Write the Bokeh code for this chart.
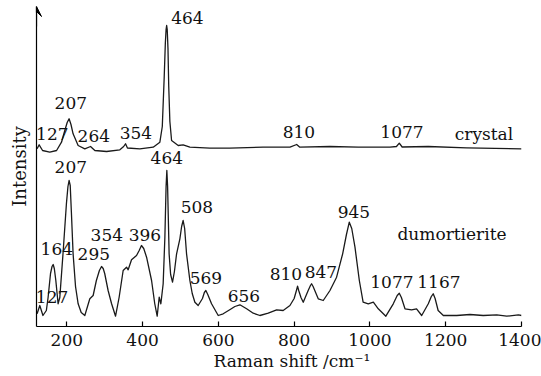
from bokeh.plotting import figure
from bokeh.models import ColumnDataSource, FixedTicker, Arrow, VeeHead, Range1d, Title
from bokeh.core.properties import value
from bokeh.embed import file_html
from bokeh.resources import INLINE

# ---- data (Raman shift in cm^-1, intensity in arbitrary units) ----
crystal_x = [121.6, 127, 136, 155, 173, 186, 194.7, 201, 206, 211, 216.6, 229.9, 247.5, 262.6, 274, 305,
             340, 350, 355, 360, 392.8, 428, 445.6, 452, 457, 460, 462, 463.5, 465, 467, 469, 472, 476.5,
             494, 507, 524.8, 577.6, 630, 718, 789, 806.6, 815, 894.5, 969, 1053, 1070, 1077.5, 1085,
             1154, 1255, 1330, 1400]
crystal_y = [177.7, 181.7, 176, 174.3, 176, 184.3, 196, 204, 207.7, 202, 192.7, 181, 177.7, 180, 176, 175,
             176.7, 180, 182.7, 178.5, 177.7, 179.3, 184.3, 200, 249, 283, 297, 301, 297, 278, 240, 205, 186,
             181, 181.7, 179.3, 178.3, 178.3, 179.3, 179.3, 182, 179.3, 180, 179.3, 179.3, 180, 183.3, 179.5,
             180, 178.7, 178.2, 177.7]

dumort_x = [121.6, 128.7, 137, 146, 150.6, 157, 161, 164, 167, 171, 177, 181.5, 190, 199, 203, 206, 209,
            212, 216.6, 223, 229.9, 238, 247.5, 260.7, 269.5, 278, 286, 291.6, 296, 300, 309, 318, 328.6,
            338, 348.7, 357.6, 361.9, 370.8, 384, 391, 397, 403, 410.5, 423.7, 432, 438.5, 443.8, 448.2,
            454.3, 458.8, 462, 464, 466, 470, 474, 479, 484, 489.7, 498.4, 503, 507, 511, 516, 524.8, 531,
            538, 546.7, 558, 563, 567, 572, 582, 599.6, 612.7, 630, 643.6, 656.8, 674.5, 692, 709.6, 731.6,
            753.7, 771, 788.9, 800, 806, 809, 812, 818, 824, 837, 843, 846, 850, 863.6, 876.8, 894.5, 912,
            928, 938, 945.5, 952, 960.5, 972, 982, 995.6, 1009, 1022, 1042, 1061.6, 1072, 1077.5, 1083,
            1092.5, 1110, 1123, 1136.6, 1154, 1162, 1167, 1172, 1180, 1193.7, 1229, 1264, 1299, 1334.7,
            1361, 1391.7, 1400]
dumort_y = [12.7, 21, 11, 16, 29, 53, 60, 62, 58, 46, 22.7, 29, 73, 123, 140, 146, 141,
            115, 72.7, 40, 22.7, 14, 11, 27.7, 31, 46, 56, 60, 58, 53, 36, 23, 10.3,
            29, 56, 59.3, 56.7, 66.7, 71, 76, 81, 78, 69.3, 46, 23, 10.3, 29.3, 22.7,
            42.7, 89, 140, 156, 140, 72.7, 52, 44.3, 55, 72.7, 87.7, 100, 106, 98, 72.7, 46, 33,
            24.3, 21, 28, 34, 36, 32, 22.7, 11, 12.7, 16.7, 20, 21.7, 17.7, 13.3, 11, 13.3,
            16.7, 16, 21, 28, 36, 40.3, 36, 29, 24.3, 36, 41, 42.7, 40, 27.7, 26, 36, 49.3,
            72.7, 92, 104.3, 98, 79.3, 46, 24.3, 22.7, 24.3, 17.7, 10.3, 22.7, 31, 33.3, 29,
            17.7, 16.7, 17.7, 11, 22.7, 30, 32.7, 28, 16, 11, 11, 12, 11, 11.7,
            10.3, 11.7, 11]

x_ticks = [200, 400, 600, 800, 1000, 1200, 1400]

# peak annotations (text, and where each label sits)
crystal_labels = ["127", "207", "264", "354", "464", "810", "1077", "crystal"]
crystal_label_x = [161.7, 210.6, 271.3, 382.2, 518.2, 812.6, 1084.6, 1301]
crystal_label_y = [193, 224, 191, 194, 309, 195, 195, 193]

dumort_labels = ["127", "164", "207", "295", "354", "396", "464", "508", "569", "656",
                 "810", "847", "945", "1077", "1167", "dumortierite"]
dumort_label_x = [161.0, 173.6, 210.6, 271.3, 305.6, 406, 464, 543.3, 567, 667.4,
                  778.3, 870.7, 957.8, 1058, 1182, 1216.6]
dumort_label_y = [30, 78, 160, 73, 92, 92, 169, 120, 49, 31,
                  53, 55, 115, 45, 45, 93]

FONT = "DejaVu Serif"
FS = "17px"

p = figure(width=541, height=376, output_backend="svg", toolbar_location=None,
           x_range=Range1d(120, 1400), y_range=Range1d(0, 320),
           min_border_left=36, min_border_right=20, min_border_top=6, min_border_bottom=50)
p.outline_line_color = None
p.xgrid.visible = False
p.ygrid.visible = False
p.background_fill_color = "white"
p.border_fill_color = "white"

p.line(crystal_x, crystal_y, line_color="#1a1a1a", line_width=1.3, line_join="round")
p.line(dumort_x, dumort_y, line_color="#1a1a1a", line_width=1.3, line_join="round")

src_c = ColumnDataSource(dict(x=crystal_label_x, y=crystal_label_y, t=crystal_labels))
src_d = ColumnDataSource(dict(x=dumort_label_x, y=dumort_label_y, t=dumort_labels))
for s in (src_c, src_d):
    p.text(x="x", y="y", text="t", source=s, text_font=value(FONT), text_font_size=value(FS),
           text_align="center", text_baseline="middle", text_color="#111111")

# x axis
xa = p.xaxis[0]
xa.ticker = FixedTicker(ticks=x_ticks)
xa.minor_tick_line_color = None
xa.major_tick_in = 5
xa.major_tick_out = 0
xa.major_tick_line_width = 1.2
xa.axis_line_width = 1.2
xa.axis_line_color = "black"
xa.major_tick_line_color = "black"
xa.major_label_text_font = FONT
xa.major_label_text_font_size = FS
xa.major_label_text_color = "#111111"
xa.major_label_standoff = 7

# x axis title, set a little right of centre as in the reference
p.add_layout(Title(text="Raman shift /cm\u207b\u00b9", align="left", offset=177, standoff=0,
                   text_font=FONT, text_font_size=FS, text_font_style="normal",
                   text_color="#111111"), "below")

# y axis
ya = p.yaxis[0]
ya.ticker = FixedTicker(ticks=[])
ya.minor_tick_line_color = None
ya.major_tick_out = 0
ya.major_tick_in = 0
ya.axis_line_width = 1.2
ya.axis_line_color = "black"
ya.axis_label = "Intensity"
ya.axis_label_text_font = FONT
ya.axis_label_text_font_size = "18px"
ya.axis_label_text_font_style = "normal"
ya.axis_label_text_color = "#111111"
ya.axis_label_standoff = 7

p.add_layout(Arrow(end=VeeHead(size=10, fill_color="black", line_color="black"),
                   x_start=120, y_start=300, x_end=120, y_end=320,
                   line_color="black", line_width=1.2))

open("out.html", "w").write(file_html(p, INLINE))
